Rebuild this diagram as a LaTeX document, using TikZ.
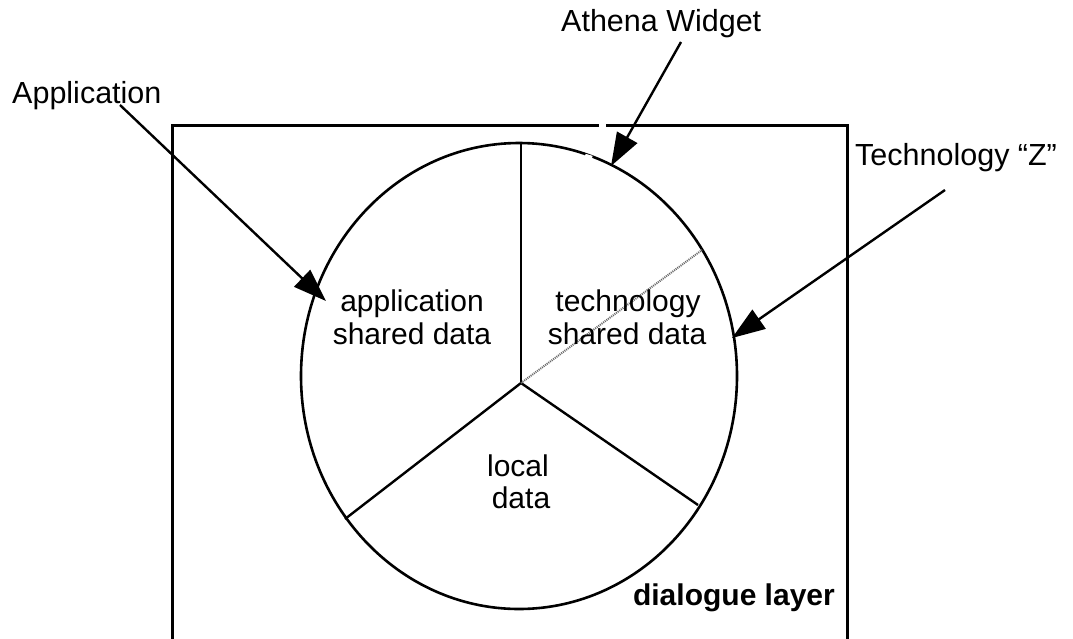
\documentclass[tikz,border=0pt]{standalone}
\usepackage{fontspec}
\setmainfont{Liberation Sans}
\usetikzlibrary{arrows.meta,shapes.geometric}
\begin{document}
\begin{tikzpicture}[x=1pt,y=-1pt,
  lbl/.style={inner sep=0pt,font=\fontsize{30.5}{34}\selectfont},
  inlbl/.style={inner sep=0pt,align=center,font=\fontsize{30}{34}\selectfont},
  frame/.style={line width=3pt},
  rim/.style={line width=2.6pt},
  spoke/.style={line width=2.4pt},
  dotl/.style={line width=2pt,black!60,dash pattern=on 1pt off 1pt},
  ptr/.style={line width=2.4pt,-{Triangle[length=33pt,width=23pt]}},
  gap/.style={white,line width=4pt}]
\useasboundingbox (0,0) rectangle (1073,638);
% frame (dialogue layer), open at the bottom
\coordinate (fbl) at (172,640);
\coordinate (ftl) at (172,125);
\coordinate (ftr) at (847,125);
\coordinate (fbr) at (847,640);
\draw[frame] (fbl) -- (ftl) -- (ftr) -- (fbr);
\coordinate (g1) at (599,125);
\coordinate (g2) at (606,125);
\draw[gap] (g1) -- (g2);
% ellipse
\node[draw,rim,ellipse,minimum width=436pt,minimum height=466pt,inner sep=0pt] (ell) at (519,376) {};
\coordinate (e1) at (585,156);
\coordinate (e2) at (592,158);
\draw[gap,line width=4.5pt] (e1) -- (e2);
% spokes
\coordinate (c) at (521,383);
\coordinate (top) at (521,144);
\coordinate (ll) at (345,519);
\coordinate (lr) at (698,505);
\coordinate (dt) at (702,250);
\draw[spoke] (top) -- (c);
\draw[spoke] (c) -- (ll);
\draw[spoke] (c) -- (lr);
\draw[dotl] (c) -- (dt);
% labels inside
\node[inlbl,anchor=base] (asd) at (412,311) {application};
\node[inlbl,anchor=base] (asd2) at (412,344) {shared data};
\node[inlbl,anchor=base] (tsd) at (628,311) {technology};
\node[inlbl,anchor=base] (tsd2) at (627,344) {shared data};
\node[inlbl,anchor=base] (ld) at (518,476) {local};
\node[inlbl,anchor=base] (ld2) at (521,508) {data};
\node[lbl,anchor=base east,font=\fontsize{30}{34}\selectfont\bfseries] (dl) at (835,605) {dialogue layer};
% outer labels and pointers
\node[lbl,anchor=base west] (athena) at (561,31) {Athena Widget};
\node[lbl,anchor=base west] (app) at (12,103) {Application};
\node[lbl,anchor=base west] (techz) at (855,165) {Technology “Z”};
\coordinate (as) at (681,42);
\coordinate (at) at (611,166);
\coordinate (ps) at (120,105);
\coordinate (pt) at (326,301);
\coordinate (ts) at (945,190);
\coordinate (tt) at (732,338);
\draw[ptr] (as) -- (at);
\draw[ptr] (ps) -- (pt);
\draw[ptr] (ts) -- (tt);
\end{tikzpicture}
\end{document}
